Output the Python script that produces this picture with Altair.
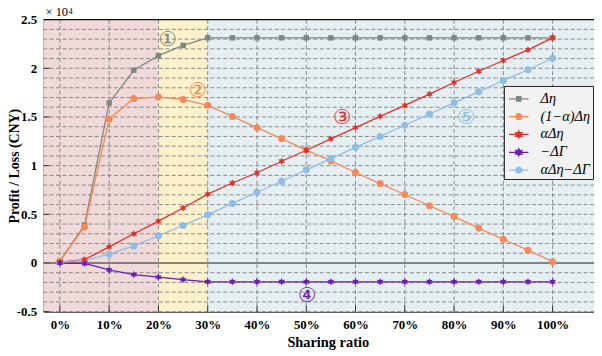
import altair as alt
import pandas as pd

# ---------------- data ----------------
ratio = [0, 5, 10, 15, 20, 25, 30, 35, 40, 45, 50, 55, 60, 65, 70, 75, 80, 85, 90, 95, 100]

delta_eta = [200, 3900, 16440, 19800, 21300, 22360, 23130, 23130, 23130, 23130, 23130,
             23130, 23130, 23130, 23130, 23130, 23130, 23130, 23130, 23130, 23130]
one_minus_alpha = [200, 3700, 14800, 16900, 17050, 16800, 16200, 15060, 13900, 12780, 11600,
                   10490, 9300, 8160, 7040, 5880, 4770, 3590, 2430, 1320, 140]
alpha_eta = [100, 350, 1650, 3000, 4300, 5650, 7070, 8220, 9270, 10450, 11580,
             12750, 13900, 15060, 16200, 17350, 18540, 19700, 20800, 21900, 23130]
minus_gamma = [0, -50, -700, -1200, -1450, -1700, -1930, -1930, -1930, -1930, -1930,
               -1930, -1930, -1930, -1930, -1930, -1930, -1930, -1930, -1930, -1930]
alpha_eta_minus_gamma = [100, 250, 900, 1750, 2800, 3860, 4950, 6120, 7270, 8400, 9570,
                         10730, 11880, 13000, 14150, 15300, 16450, 17600, 18750, 19850, 21030]

series_names = ["Δη", "(1−α)Δη", "αΔη", "−ΔΓ", "αΔη−ΔΓ"]
series_values = [delta_eta, one_minus_alpha, alpha_eta, minus_gamma, alpha_eta_minus_gamma]
series_colors = ["#7e8681", "#f5895a", "#e0322d", "#6c1eac", "#8fbde4"]

x_ticks = [0, 10, 20, 30, 40, 50, 60, 70, 80, 90, 100]
y_labels = [-5000, 0, 5000, 10000, 15000, 20000, 25000]
y_grid = [-4000, -3000, -2000, -1000, 1000, 2000, 3000, 4000, 6000, 7000, 8000, 9000,
          11000, 12000, 13000, 14000, 16000, 17000, 18000, 19000, 21000, 22000, 23000, 24000,
          -5000, 5000, 10000, 15000, 20000]

band_names = ["low", "mid", "high"]
band_start = [-3.3, 20, 30]
band_end = [20, 30, 108.4]
band_colors = ["#efd9d9", "#fdf1cb", "#e5eff1"]

ann_labels = ["①", "②", "③", "④", "⑤"]
ann_x = [21.9, 28.0, 57.3, 50.2, 82.5]
ann_y = [22870, 17620, 14850, -3350, 14850]

X_DOMAIN = [-3.3, 108.4]
Y_DOMAIN = [-5000, 25000]

# ---------------- tables ----------------
rows = []
for name, vals in zip(series_names, series_values):
    for r, v in zip(ratio, vals):
        rows.append({"ratio": r, "value": v, "series": name})
df = pd.DataFrame(rows)

bands = pd.DataFrame({"band": band_names, "start": band_start, "end": band_end})
xg = pd.DataFrame({"v": x_ticks})
yg = pd.DataFrame({"v": y_grid})
yl = pd.DataFrame({"v": y_labels})
ann = pd.DataFrame({"label": ann_labels, "x": ann_x, "y": ann_y, "series": series_names})

FONT = "Liberation Serif"
xs = alt.Scale(domain=X_DOMAIN, nice=False, zero=False)
ys = alt.Scale(domain=Y_DOMAIN, nice=False, zero=False)
color_scale = alt.Scale(domain=series_names, range=series_colors)

STAR = ("M0,-1L0.25,-0.433L0.866,-0.5L0.5,0L0.866,0.5L0.25,0.433L0,1L-0.25,0.433"
        "L-0.866,0.5L-0.5,0L-0.866,-0.5L-0.25,-0.433Z")


def circ(r):
    return f"M{-r},0A{r},{r} 0 1 1 {r},0A{r},{r} 0 1 1 {-r},0Z"


def sq(h):
    return f"M{-h},{-h}H{h}V{h}H{-h}Z"


def star(s):
    pts = [(0, -1), (0.25, -0.433), (0.866, -0.5), (0.5, 0), (0.866, 0.5), (0.25, 0.433),
           (0, 1), (-0.25, 0.433), (-0.866, 0.5), (-0.5, 0), (-0.866, -0.5), (-0.25, -0.433)]
    return "M" + "L".join(f"{x*s:.3f},{y*s:.3f}" for x, y in pts) + "Z"


LINE = "M-1,0H1"
legend_paths = [
    LINE + sq(0.22) + sq(0.12) + sq(0.03),
    LINE + circ(0.3) + circ(0.19) + circ(0.08),
    LINE + star(0.36) + star(0.2) + star(0.07),
    LINE + star(0.36) + star(0.2) + star(0.07),
    LINE + circ(0.3) + circ(0.19) + circ(0.08),
]

x_axis = alt.Axis(values=x_ticks, labelExpr="datum.value + '%'", title="Sharing ratio",
                  grid=False, ticks=False, domainColor="black", labelPadding=7,
                  labelFont=FONT, labelFontWeight="bold", labelFontSize=13, labelColor="black",
                  titleFont=FONT, titleFontWeight="bold", titleFontSize=14.5, titleColor="black",
                  titlePadding=4, titleX=287, labelOverlap=False)
y_axis = alt.Axis(values=y_labels, labelExpr="'' + (datum.value / 10000)", title="Profit / Loss (CNY)",
                  grid=False, ticks=False, domainColor="black", labelPadding=7,
                  labelFont=FONT, labelFontWeight="bold", labelFontSize=13, labelColor="black",
                  titleFont=FONT, titleFontWeight="bold", titleFontSize=14, titleColor="black",
                  titleX=-29, titleY=147.5, titleBaseline="middle", titleAlign="center",
                  titleAngle=270, labelOverlap=False)

leg = alt.Legend(orient="none", legendX=465, legendY=67, title=None,
                 fillColor="#f2f2f2", strokeColor="#222222", padding=2,
                 symbolSize=390, symbolStrokeWidth=1.3, symbolOffset=2, labelOffset=11,
                 labelFont=FONT, labelFontSize=14.5, labelFontStyle="italic", labelColor="black",
                 rowPadding=0)

# legend-only layer (draws no marks, carries the legend); placed first so its legend wins
legend_layer = alt.Chart(df).transform_filter("false").mark_point(filled=False, opacity=1).encode(
    x=alt.X("ratio:Q", scale=xs, axis=x_axis), y=alt.Y("value:Q", scale=ys, axis=y_axis),
    color=alt.Color("series:N", scale=color_scale, legend=leg),
    shape=alt.Shape("series:N", scale=alt.Scale(domain=series_names, range=legend_paths), legend=leg),
)

bg = alt.Chart(bands).mark_rect().encode(
    x=alt.X("start:Q", scale=xs),
    x2="end:Q",
    y=alt.datum(Y_DOMAIN[0], scale=ys),
    y2=alt.datum(Y_DOMAIN[1]),
    fill=alt.Fill("band:N", scale=alt.Scale(domain=band_names, range=band_colors), legend=None),
)

grid_style = dict(strokeDash=[4, 2.5], color="#7d7d7d", strokeWidth=0.9)
xgrid = alt.Chart(xg).mark_rule(**grid_style).encode(x=alt.X("v:Q", scale=xs))
ygrid = alt.Chart(yg).mark_rule(**grid_style).encode(y=alt.Y("v:Q", scale=ys))

xticks_l = alt.Chart(xg).mark_rule(color="#333333", strokeWidth=1).encode(
    x=alt.X("v:Q", scale=xs), y=alt.datum(Y_DOMAIN[0]), y2=alt.datum(Y_DOMAIN[0] + 600))
yticks_l = alt.Chart(yl).mark_rule(color="#333333", strokeWidth=1).encode(
    y=alt.Y("v:Q", scale=ys), x=alt.datum(X_DOMAIN[0]), x2=alt.datum(X_DOMAIN[0] + 1.2))

zero = alt.Chart(yl).transform_filter("datum.v == 0").mark_rule(color="#5f5f5f", strokeWidth=1.6).encode(
    y=alt.Y("v:Q", scale=ys))
top = alt.Chart(yl).transform_filter("datum.v == 25000").mark_rule(color="#111111", strokeWidth=1.2).encode(
    y=alt.Y("v:Q", scale=ys))

lines = alt.Chart(df).mark_line(strokeWidth=1.3).encode(
    x=alt.X("ratio:Q", scale=xs), y=alt.Y("value:Q", scale=ys),
    color=alt.Color("series:N", scale=color_scale, legend=None),
    detail="series:N",
)


def pts(names, shape, size):
    return alt.Chart(df).transform_filter(
        alt.FieldOneOfPredicate(field="series", oneOf=names)
    ).mark_point(shape=shape, filled=True, opacity=1, size=size, strokeWidth=0).encode(
        x=alt.X("ratio:Q", scale=xs), y=alt.Y("value:Q", scale=ys),
        color=alt.Color("series:N", scale=color_scale, legend=None),
    )


p_sq = pts([series_names[0]], "square", 30)
p_ci = pts([series_names[1], series_names[4]], "circle", 50)
p_st = pts([series_names[2], series_names[3]], STAR, 60)

annot = alt.Chart(ann).mark_text(font="DejaVu Sans", fontSize=21, align="center", baseline="middle").encode(
    x=alt.X("x:Q", scale=xs), y=alt.Y("y:Q", scale=ys), text="label:N",
    color=alt.Color("series:N", scale=color_scale, legend=None),
)

top_row = alt.Chart(yl).transform_filter("datum.v == 25000")
mult = top_row.mark_text(
    text="× 10", font=FONT, fontSize=12.5, align="left", baseline="bottom", dx=2, dy=-1, color="black"
).encode(x=alt.datum(X_DOMAIN[0], scale=xs), y=alt.Y("v:Q", scale=ys))
mult_exp = top_row.mark_text(
    text="4", font=FONT, fontSize=8.5, align="left", baseline="bottom", dx=25, dy=-4, color="black"
).encode(x=alt.datum(X_DOMAIN[0], scale=xs), y=alt.Y("v:Q", scale=ys))

chart = alt.layer(
    legend_layer, bg, xgrid, ygrid, xticks_l, yticks_l, zero, top, lines, p_sq, p_ci, p_st, annot,
    mult, mult_exp
).properties(
    width=556, height=295,
    autosize=alt.AutoSizeParams(type="none"),
    padding={"left": 36, "top": 10, "right": 0, "bottom": 40},
).configure_view(stroke=None)

chart.save("out.html", embed_options={"renderer": "svg", "actions": False})
